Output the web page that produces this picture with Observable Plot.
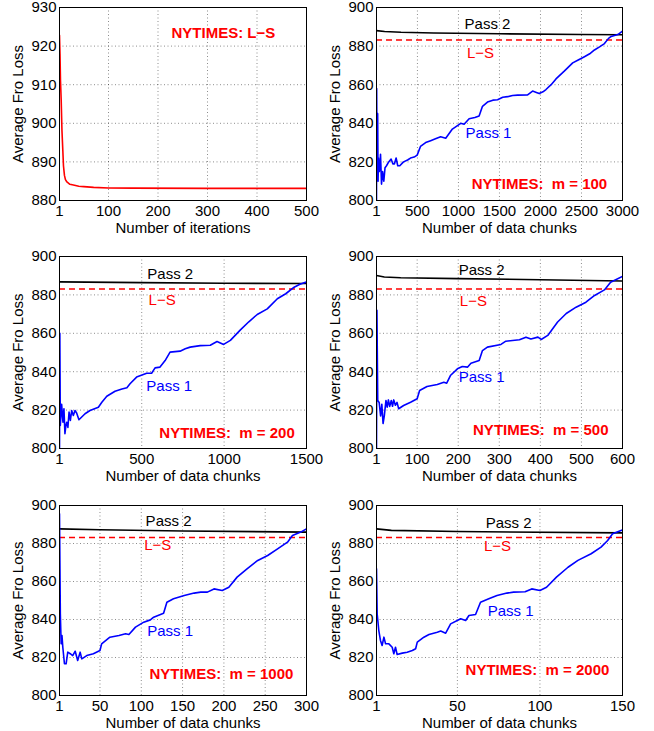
<!DOCTYPE html>
<html><head><meta charset="utf-8">
<script src="https://cdn.jsdelivr.net/npm/d3@7"></script>
<script src="https://cdn.jsdelivr.net/npm/@observablehq/plot@0.6"></script>
<style>
body{margin:0;background:#fff;}
#wrap{position:relative;width:654px;height:731px;background:#fff;}
.panel{position:absolute;}
</style></head><body><div id="wrap"></div>
<script>
// ---------- data ----------
const lsLevel = 883.1;
const lsIterations = [[1,922.8],[2,918],[3,911],[4.4,906],[6,898],[7.7,893],[9,889],[11,886.5],[13,885.4],[16,884.8],[22,884.2],[29,884],[40,883.7],[50,883.6],[70,883.4],[100,883.25],[150,883.2],[300,883.15],[500,883.15]];

const pass1M100 = [[1,800],[3,858],[8,812],[15,845],[20,810],[25,822],[35,815],[41,817],[50,824],[62,808.5],[75,815],[90,810],[105,817],[123,818],[150,820],[179,821.5],[200,819],[220,819],[240,822],[260,818],[285,818],[330,820],[380,821],[415,822],[460,822.5],[497,823.5],[537,828],[600,830],[661,831],[720,832],[783,833],[845,832.3],[926,837],[1028,840],[1069,839.5],[1130,842.4],[1200,843],[1252,843.8],[1293,848.8],[1354,851],[1420,852],[1477,852.2],[1540,853.5],[1599,853.8],[1660,854.4],[1721,854.6],[1843,854.7],[1904,856.7],[1950,856],[1985,855.4],[2030,856.3],[2067,857.5],[2130,860],[2189,863],[2290,867],[2393,871.3],[2460,872.8],[2536,874.5],[2600,876],[2658,878],[2720,879.6],[2780,881.3],[2830,884],[2862,885],[2943,886],[3000,887.8]];
const pass2M100 = [[1,888],[100,887.6],[300,887.2],[700,886.8],[1500,886.4],[2500,886],[3000,885.9]];

const pass1M200 = [[1,800],[3,860],[6,812],[14,823],[22,813.7],[28,820.7],[34,807.7],[40,812],[45,813.7],[52,811],[59,819],[67,814.6],[75,819.8],[85,817.2],[95,819.8],[105,818.5],[119,815],[156,818.1],[186,819.8],[237,821.5],[258,824.1],[288,827.2],[338,829.8],[380,831],[410,831.6],[429,833.7],[469,837.2],[530,839.2],[560,839.2],[581,842],[611,842.4],[642,845.8],[672,850.2],[733,850.7],[764,851.9],[794,852.8],[855,853.6],[916,853.8],[957,855.7],[997,854.2],[1038,856.3],[1099,861.8],[1150,866],[1201,869.8],[1262,872.7],[1323,878],[1374,880.6],[1425,884],[1460,885.5],[1500,886.8]];
const pass2M200 = [[1,886.8],[500,886.4],[1000,886.1],[1500,885.9]];

const pass1M500 = [[1,800],[2,872],[4,825],[7.5,824],[11,817],[14,823],[17,813],[20,817],[24,825],[27,821.5],[30,825.3],[33,821.9],[37,825],[40,822],[43,825.3],[47,822.5],[51,824],[55,820.7],[67,822.4],[84,824.1],[100,825.9],[106,830.2],[124,832.3],[149,833.3],[165,834.5],[172,834],[181,838],[198,841.5],[210,842.7],[223,842.4],[231,844.4],[251,845.8],[259,851],[271,852.8],[304,854.2],[316,855.9],[349,856.6],[365,858],[377,857],[394,858],[402,856.8],[418,858.9],[442,865.9],[463,870.3],[487,873.6],[511,876.2],[532,879.7],[556,882.6],[571,886.6],[600,889.6]];
const pass2M500 = [[1,890.1],[20,889.3],[60,888.9],[200,888.5],[400,887.9],[600,887.2]];

const pass1M1000 = [[1,895.6],[2,843],[3,827.2],[4,831.6],[5,825.4],[7,816.7],[9,816.7],[11,822.8],[14,822],[17,821],[20,823.3],[23,818.4],[26,822.8],[28,819.3],[34,821],[42,822],[50,823.7],[52,827.2],[62,830.7],[73,831.6],[81,832.5],[85,832.1],[93,836],[103,838.6],[111,839.8],[115,841.2],[127,843.3],[131,849.1],[139,850.9],[152,852.6],[164,853.9],[172,854.4],[180,854.4],[188,856.1],[198,855.3],[206,857],[216,862.3],[228,866.7],[241,871.1],[253,873.7],[265,877.2],[277,880.7],[283,884.2],[293,886],[300,887.7]];
const pass2M1000 = [[1,887.7],[50,887.2],[150,886.6],[300,886]];

const pass1M2000 = [[1,866.7],[1.4,843],[2.4,834.2],[3.4,829],[4.4,826.3],[5.5,830.7],[6.5,827.2],[8.5,827.2],[10.5,825.4],[11.5,822],[12.5,825.4],[13.5,821.6],[16.6,822.3],[19.6,822.8],[22.7,823.7],[24.7,824.6],[25.7,828.1],[29.7,830.7],[32.8,832.1],[37.8,833.3],[39.9,833.9],[42.9,832.8],[45.9,837.7],[52,840.4],[55,839.5],[57,842.1],[61,842.6],[64,849.1],[69,850.9],[74,852.6],[80,853.9],[84,854.4],[91,854.6],[95,856.1],[100,855.3],[104,857],[110,862.3],[117,867.5],[123,871.1],[131,874.6],[137,878.1],[141,881.6],[144,885.1],[150,887.2]];
const pass2M2000 = [[1,887.7],[10,886.9],[50,886.3],[150,885.6]];

const xTicksIter = [1,100,200,300,400,500];
const xTicksM100 = [1,500,1000,1500,2000,2500,3000];
const xTicksM200 = [1,500,1000,1500];
const xTicksM500 = [1,100,200,300,400,500,600];
const xTicksM1000 = [1,50,100,150,200,250,300];
const xTicksM2000 = [1,50,100,150];
const yTicksLS = [880,890,900,910,920,930];
const yTicksChunks = [800,820,840,860,880,900];

const yLabel = "Average Fro Loss";
const xLabelIter = "Number of iterations";
const xLabelChunks = "Number of data chunks";

// ---------- layout ----------
const FONT = '"Liberation Sans", Arial, Helvetica, sans-serif';
const RED = "#ff0000", BLUE = "#0000ff", BLACK = "#000000";
const rows = [{top:0,h:240,mt:7,mb:40},{top:240,h:240,mt:16,mb:32},{top:480,h:251,mt:25,mb:36}];
const cols = [{left:0,w:327,ml:59,mr:21},{left:327,w:327,ml:49,mr:32}];
const pts = a => a.map(([x,y]) => ({x,y}));

function panel(cfg){
  const r = rows[cfg.row], c = cols[cfg.col];
  const marks = [
    Plot.gridX(cfg.xTicks, {stroke:"#000", strokeOpacity:0.45, strokeDasharray:"1,2.5"}),
    Plot.gridY(cfg.yTicks, {stroke:"#000", strokeOpacity:0.45, strokeDasharray:"1,2.5"}),
    Plot.axisX(cfg.xTicks, {tickSize:0, tickPadding:5, label:null, tickFormat:d=>String(d), fontSize:15, fill:"#000"}),
    Plot.axisY(cfg.yTicks, {tickSize:0, tickPadding:3, label:null, tickFormat:d=>String(d), fontSize:15, fill:"#000"}),
    ...cfg.lines,
    Plot.frame({stroke:"#000", strokeWidth:1}),
    Plot.text([cfg.xLabel], {text:d=>d, frameAnchor:"bottom", lineAnchor:"middle", textAnchor:"middle", dy:27.5, fontSize:15, fill:"#000"}),
    Plot.text([yLabel], {text:d=>d, frameAnchor:"left", lineAnchor:"middle", textAnchor:"middle", rotate:-90, dx:-41, fontSize:15, fill:"#000"}),
    ...cfg.texts.map(t => Plot.text([t], {x:"x", y:"y", text:"t", fill:t.fill, fontSize:15, fontWeight:t.bold ? "bold" : "normal", textAnchor:"middle", lineAnchor:"middle"}))
  ];
  const svg = Plot.plot({
    width:c.w, height:r.h,
    marginLeft:c.ml, marginRight:c.mr, marginTop:r.mt, marginBottom:r.mb,
    x:{domain:cfg.xDomain}, y:{domain:cfg.yDomain},
    style:{fontFamily:FONT, fontSize:"15px", background:"transparent", overflow:"visible", color:"#000"},
    marks
  });
  const div = document.createElement("div");
  div.className = "panel";
  div.style.left = c.left + "px";
  div.style.top = r.top + "px";
  div.appendChild(svg);
  document.getElementById("wrap").appendChild(div);
}

function chunkPanel(row, col, xMax, xTicks, p1, p2, mLabel, pos){
  panel({
    row, col, xDomain:[1,xMax], xTicks, yDomain:[800,900], yTicks:yTicksChunks, xLabel:xLabelChunks,
    lines:[
      Plot.line(pts(p2), {x:"x", y:"y", stroke:BLACK, strokeWidth:1.6, clip:true}),
      Plot.ruleY([lsLevel], {stroke:RED, strokeWidth:1.5, strokeDasharray:"6,4"}),
      Plot.line(pts(p1), {x:"x", y:"y", stroke:BLUE, strokeWidth:1.6, clip:true})
    ],
    texts:[
      {x:pos.p2[0], y:pos.p2[1], t:"Pass 2", fill:BLACK},
      {x:pos.ls[0], y:pos.ls[1], t:"L\u2212S", fill:RED},
      {x:pos.p1[0], y:pos.p1[1], t:"Pass 1", fill:BLUE},
      {x:pos.ny[0], y:pos.ny[1], t:"NYTIMES:  m = " + mLabel, fill:RED, bold:true}
    ]
  });
}

// Panel 1: L-S iterations
panel({
  row:0, col:0, xDomain:[1,500], xTicks:xTicksIter, yDomain:[880,930], yTicks:yTicksLS, xLabel:xLabelIter,
  lines:[Plot.line(pts(lsIterations), {x:"x", y:"y", stroke:RED, strokeWidth:1.6, clip:true})],
  texts:[{x:332, y:923.4, t:"NYTIMES: L\u2212S", fill:RED, bold:true}]
});

chunkPanel(0,1,3000,xTicksM100,pass1M100,pass2M100,"100",{p2:[1354,891.6],ls:[1269,876.3],p1:[1366,834.9],ny:[1988,808.3]});
chunkPanel(1,0,1500,xTicksM200,pass1M200,pass2M200,"200",{p2:[673,891],ls:[624,877.1],p1:[667,832.4],ny:[1018,808]});
chunkPanel(1,1,600,xTicksM500,pass1M500,pass2M500,"500",{p2:[257,892.7],ls:[237,876.6],p1:[257,837.1],ny:[401,809.4]});
chunkPanel(2,0,300,xTicksM1000,pass1M1000,pass2M1000,"1000",{p2:[133,891.6],ls:[120,878.9],p1:[135,833.8],ny:[197,811]});
chunkPanel(2,1,150,xTicksM2000,pass1M2000,pass2M2000,"2000",{p2:[81,890.9],ls:[74.3,878.6],p1:[82.2,844.2],ny:[98.5,813.2]});
</script></body></html>
